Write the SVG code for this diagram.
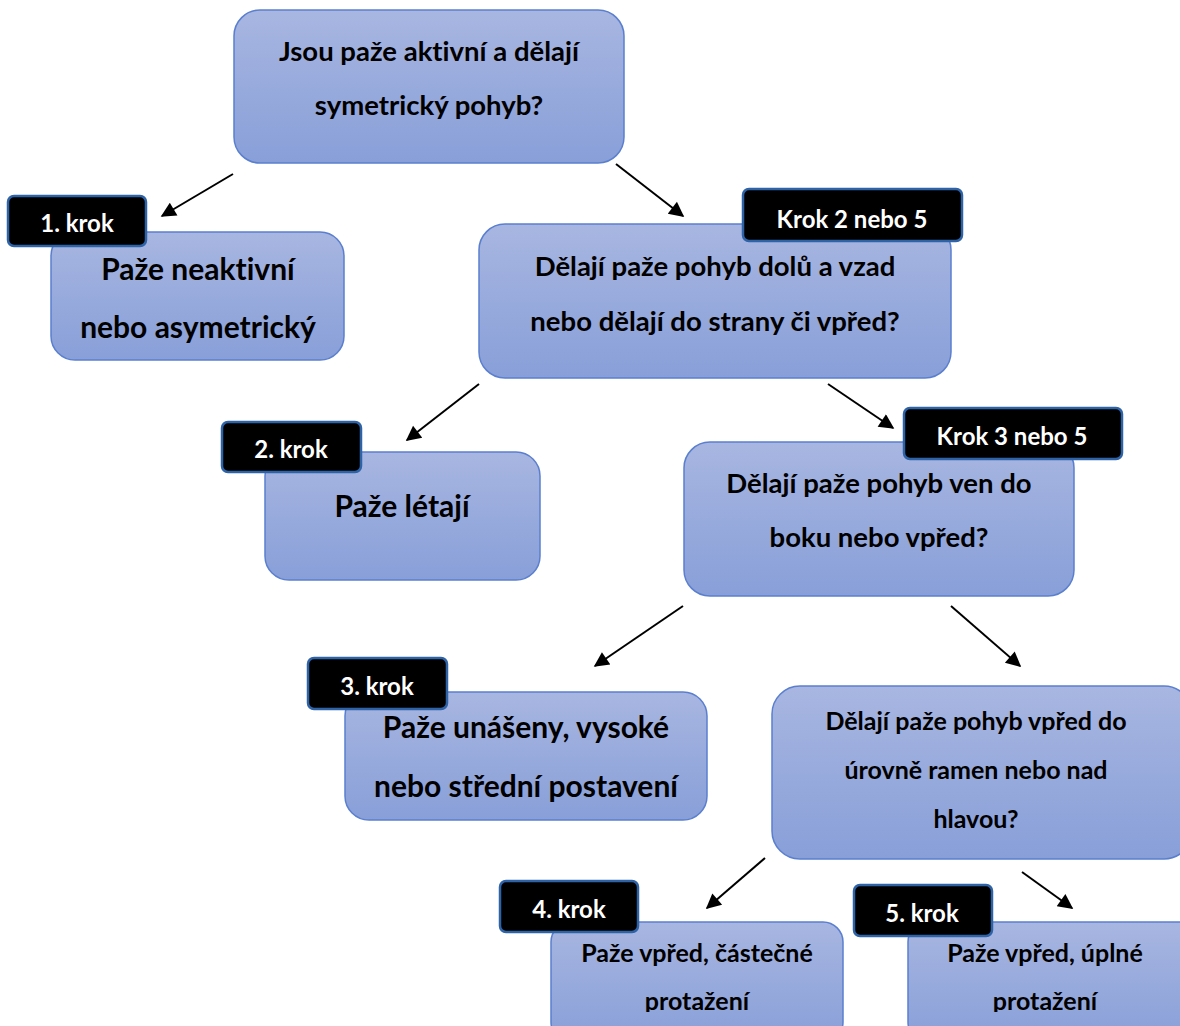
<svg xmlns="http://www.w3.org/2000/svg" width="1180" height="1026" viewBox="0 0 1180 1026">
<defs>
<linearGradient id="g" x1="0" y1="0" x2="0" y2="1">
<stop offset="0" stop-color="#a8b6e1"/>
<stop offset="1" stop-color="#889fd8"/>
</linearGradient>
<marker id="ah" viewBox="0 0 10 10" refX="9" refY="5" markerWidth="9" markerHeight="7.5" orient="auto" markerUnits="strokeWidth">
<path d="M0,0 L10,5 L0,10 z" fill="#000"/>
</marker>
<clipPath id="clipB"><rect x="0" y="0" width="1180" height="1012"/></clipPath>
</defs>
<style>
.box{fill:url(#g);stroke:#5a7fcf;stroke-width:1.5}
.badge{fill:#000;stroke:#2e63a8;stroke-width:2.5}
text{font-family:"Lato","Open Sans","Liberation Sans",sans-serif;font-weight:bold;text-anchor:middle;fill:#000;font-variant-ligatures:none}
.bt{fill:#fff;font-size:24px}
.q{font-size:27.5px}
.a{font-size:30px}
.s{font-size:25px}
.conn line{stroke:#000;stroke-width:2;marker-end:url(#ah)}
</style>
<g class="conn" id="connectors">
<line x1="233" y1="174" x2="162" y2="216"/>
<line x1="616" y1="164" x2="683" y2="216"/>
<line x1="479" y1="384" x2="407" y2="440"/>
<line x1="828" y1="384" x2="893" y2="428"/>
<line x1="683" y1="606" x2="595" y2="666"/>
<line x1="951" y1="606" x2="1020" y2="666"/>
<line x1="765" y1="858" x2="707" y2="908"/>
<line x1="1022" y1="872" x2="1072" y2="908"/>
</g>
<g id="n0">
<rect class="box" x="234" y="10" width="390" height="153" rx="26"/>
<text class="q" x="429" y="61">Jsou paže aktivní a dělají</text>
<text class="q" x="429" y="115">symetrický pohyb?</text>
</g>
<g id="n1">
<rect class="box" x="51" y="232" width="293" height="128" rx="24"/>
<text class="a" x="198" y="280">Paže neaktivní</text>
<text class="a" x="198" y="338">nebo asymetrický</text>
<rect class="badge" x="8" y="196" width="138" height="50" rx="6"/>
<text class="bt" x="77" y="232">1. krok</text>
</g>
<g id="n2">
<rect class="box" x="479" y="224" width="472" height="154" rx="26"/>
<text class="q" x="715" y="276">Dělají paže pohyb dolů a vzad</text>
<text class="q" x="715" y="331">nebo dělají do strany či vpřed?</text>
<rect class="badge" x="743" y="189" width="219" height="52" rx="6"/>
<text class="bt" x="852" y="228">Krok 2 nebo 5</text>
</g>
<g id="n3">
<rect class="box" x="265" y="452" width="275" height="128" rx="24"/>
<text class="a" x="402" y="517">Paže létají</text>
<rect class="badge" x="222" y="422" width="139" height="50" rx="6"/>
<text class="bt" x="291" y="458">2. krok</text>
</g>
<g id="n4">
<rect class="box" x="684" y="442" width="390" height="154" rx="26"/>
<text class="q" x="879" y="493">Dělají paže pohyb ven do</text>
<text class="q" x="879" y="547">boku nebo vpřed?</text>
<rect class="badge" x="904" y="408" width="218" height="51" rx="6"/>
<text class="bt" x="1012" y="445">Krok 3 nebo 5</text>
</g>
<g id="n5">
<rect class="box" x="345" y="692" width="362" height="128" rx="24"/>
<text class="a" x="526" y="738">Paže unášeny, vysoké</text>
<text class="a" x="526" y="797">nebo střední postavení</text>
<rect class="badge" x="308" y="658" width="139" height="51" rx="6"/>
<text class="bt" x="377" y="695">3. krok</text>
</g>
<g id="n6">
<rect class="box" x="772" y="686" width="420" height="173" rx="28"/>
<text class="s" x="976" y="730">Dělají paže pohyb vpřed do</text>
<text class="s" x="976" y="779">úrovně ramen nebo nad</text>
<text class="s" x="976" y="828">hlavou?</text>
</g>
<g id="n7">
<rect class="box" x="551" y="922" width="292" height="120" rx="20"/>
<g clip-path="url(#clipB)">
<text class="s" x="697" y="962">Paže vpřed, částečné</text>
<text class="s" x="697" y="1010">protažení</text>
</g>
<rect class="badge" x="500" y="881" width="138" height="51" rx="6"/>
<text class="bt" x="569" y="918">4. krok</text>
</g>
<g id="n8">
<rect class="box" x="908" y="922" width="290" height="120" rx="20"/>
<g clip-path="url(#clipB)">
<text class="s" x="1045" y="962">Paže vpřed, úplné</text>
<text class="s" x="1045" y="1010">protažení</text>
</g>
<rect class="badge" x="854" y="885" width="138" height="51" rx="6"/>
<text class="bt" x="922" y="922">5. krok</text>
</g>
</svg>
